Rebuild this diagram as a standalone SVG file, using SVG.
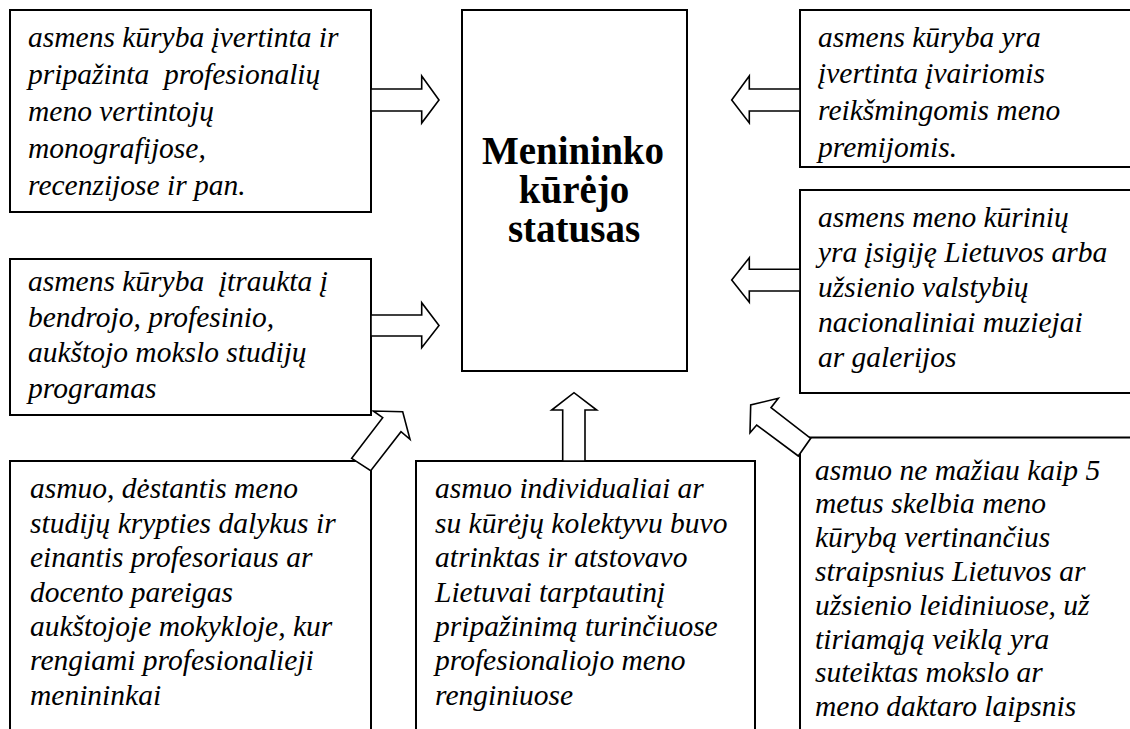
<svg xmlns="http://www.w3.org/2000/svg" width="1130" height="729" viewBox="0 0 1130 729">
<style>
.box{fill:#fff;stroke:#000;stroke-width:2}
.arr{fill:#fff;stroke:#000;stroke-width:1.6;stroke-linejoin:miter}
.t{font-family:'Liberation Serif','Times New Roman',serif;font-style:italic;font-size:29.5px;fill:#000;white-space:pre}
.h{font-family:'Liberation Serif','Times New Roman',serif;font-weight:bold;font-size:39px;fill:#000;text-anchor:middle}
</style>
<rect width="1130" height="729" fill="#fff"/>
<g id="center">
<rect class="box" x="462" y="10" width="225" height="361"/>
<text class="h" x="573" y="164">Menininko</text>
<text class="h" x="574" y="203">kūrėjo</text>
<text class="h" x="574" y="242">statusas</text>
</g>
<g id="n1">
<rect class="box" x="10" y="10" width="361" height="202"/>
<text class="t" xml:space="preserve"><tspan x="28" y="46.5">asmens kūryba įvertinta ir</tspan><tspan x="28" y="83.5">pripažinta  profesionalių</tspan><tspan x="28" y="120.5">meno vertintojų</tspan><tspan x="28" y="157.5">monografijose,</tspan><tspan x="28" y="194.5">recenzijose ir pan.</tspan></text>
</g>
<g id="n2">
<rect class="box" x="10" y="259" width="361" height="156"/>
<text class="t" xml:space="preserve"><tspan x="28" y="291">asmens kūryba  įtraukta į</tspan><tspan x="28" y="326.5">bendrojo, profesinio,</tspan><tspan x="28" y="362">aukštojo mokslo studijų</tspan><tspan x="28" y="397.5">programas</tspan></text>
</g>
<g id="n3">
<rect class="box" x="10" y="461" width="361" height="280"/>
<text class="t" xml:space="preserve"><tspan x="30" y="498.3">asmuo, dėstantis meno</tspan><tspan x="30" y="532.7">studijų krypties dalykus ir</tspan><tspan x="30" y="567.1">einantis profesoriaus ar</tspan><tspan x="30" y="601.5">docento pareigas</tspan><tspan x="30" y="635.9">aukštojoje mokykloje, kur</tspan><tspan x="30" y="670.3">rengiami profesionalieji</tspan><tspan x="30" y="704.7">menininkai</tspan></text>
</g>
<g id="n4">
<rect class="box" x="416" y="461" width="339" height="280"/>
<text class="t" xml:space="preserve"><tspan x="435" y="498.3">asmuo individualiai ar</tspan><tspan x="435" y="532.7">su kūrėjų kolektyvu buvo</tspan><tspan x="435" y="567.1">atrinktas ir atstovavo</tspan><tspan x="435" y="601.5">Lietuvai tarptautinį</tspan><tspan x="435" y="635.9">pripažinimą turinčiuose</tspan><tspan x="435" y="670.3">profesionaliojo meno</tspan><tspan x="435" y="704.7">renginiuose</tspan></text>
</g>
<g id="n5">
<rect class="box" x="800" y="10" width="340" height="157"/>
<text class="t" xml:space="preserve"><tspan x="818" y="46.7">asmens kūryba yra</tspan><tspan x="818" y="83.3">įvertinta įvairiomis</tspan><tspan x="818" y="120">reikšmingomis meno</tspan><tspan x="818" y="156.7">premijomis.</tspan></text>
</g>
<g id="n6">
<rect class="box" x="800" y="190" width="340" height="203"/>
<text class="t" xml:space="preserve"><tspan x="818" y="226.7">asmens meno kūrinių</tspan><tspan x="818" y="261.7">yra įsigiję Lietuvos arba</tspan><tspan x="818" y="296.7">užsienio valstybių</tspan><tspan x="818" y="331.7">nacionaliniai muziejai</tspan><tspan x="818" y="366.7">ar galerijos</tspan></text>
</g>
<g id="n7">
<rect class="box" x="800" y="437.5" width="340" height="300"/>
<text class="t" xml:space="preserve"><tspan x="815" y="479.5">asmuo ne mažiau kaip 5</tspan><tspan x="815" y="513.3">metus skelbia meno</tspan><tspan x="815" y="547.1">kūrybą vertinančius</tspan><tspan x="815" y="580.9">straipsnius Lietuvos ar</tspan><tspan x="815" y="614.7">užsienio leidiniuose, už</tspan><tspan x="815" y="648.5">tiriamąją veiklą yra</tspan><tspan x="815" y="682.3">suteiktas mokslo ar</tspan><tspan x="815" y="716.1">meno daktaro laipsnis</tspan></text>
</g>
<g id="connectors">
<polygon class="arr" points="371,89 421.7,89 421.7,76 439,100 421.7,123 421.7,111 371,111"/>
<polygon class="arr" points="371,315 421.7,315 421.7,302.7 439,325.5 421.7,347.7 421.7,336 371,336"/>
<polygon class="arr" points="800,89 749.3,89 749.3,76 731.7,100 749.3,123 749.3,111 800,111"/>
<polygon class="arr" points="800,269.3 749.3,269.3 749.3,257.7 731.7,280 749.3,302.3 749.3,291 800,291"/>
<polygon class="arr" points="562.7,461 562.7,410 551.7,410 574,392.7 596.7,410 585,410 585,461"/>
<polygon class="arr" points="351.7,458.3 382.7,417.7 373.3,411 402.7,411.7 410,439.3 401,431.7 370.7,470.7"/>
<polygon class="arr" points="810.7,438.3 771,407.7 778.3,398.3 750.7,405 750,432.7 756.7,425 798.3,456"/>
</g>
</svg>
